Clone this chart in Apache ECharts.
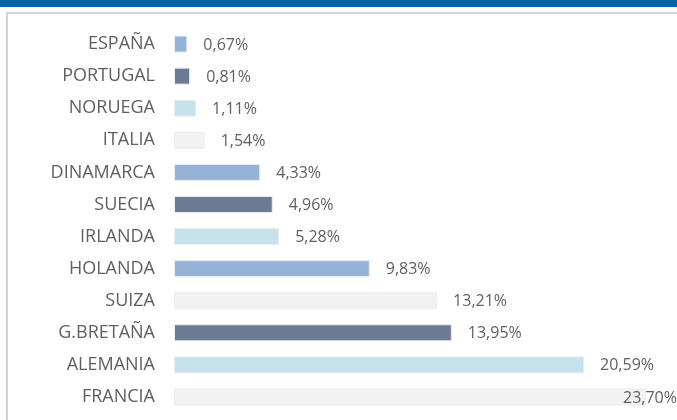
<!DOCTYPE html>
<html>
<head>
<meta charset="utf-8">
<style>
  html, body { margin: 0; padding: 0; background: #fff; }
  #chart { width: 677px; height: 420px; }
</style>
<script src="https://cdn.jsdelivr.net/npm/echarts@6/dist/echarts.min.js"></script>
</head>
<body>
<div id="chart"></div>
<script>
// categories from top to bottom
const countries = ['ESPAÑA', 'PORTUGAL', 'NORUEGA', 'ITALIA', 'DINAMARCA', 'SUECIA', 'IRLANDA', 'HOLANDA', 'SUIZA', 'G.BRETAÑA', 'ALEMANIA', 'FRANCIA']
const shares = [0.67, 0.81, 1.11, 1.54, 4.33, 4.96, 5.28, 9.83, 13.21, 13.95, 20.59, 23.70]
const barColors = ['#95b3d7', '#6b7b93', '#c6e3ed', '#f2f2f2', '#95b3d7', '#6b7b93', '#c6e3ed', '#95b3d7', '#f2f2f2', '#6b7b93', '#c6e3ed', '#f2f2f2']

const chart = echarts.init(document.getElementById('chart'))

const option = {
  animation: false,
  graphic: [
    { type: 'rect', shape: { x: 0, y: 0, width: 677, height: 7 }, style: { fill: '#0061a9' } },
    { type: 'rect', shape: { x: 7, y: 13, width: 690, height: 430 }, style: { fill: 'none', stroke: '#d4d4d4', lineWidth: 2 } }
  ],
  grid: { left: 174, top: 28, width: 472, height: 385, containLabel: false },
  xAxis: {
    type: 'value',
    min: 0,
    max: 23.7,
    show: false
  },
  yAxis: {
    type: 'category',
    inverse: true,
    data: countries,
    axisLine: { show: false },
    axisTick: { show: false },
    axisLabel: {
      margin: 19,
      color: '#5f5f5f',
      fontFamily: 'Open Sans',
      fontSize: 18
    }
  },
  series: [{
    type: 'bar',
    barWidth: 17,
    data: shares.map((v, i) => {
      const item = {
        value: v,
        itemStyle: { color: barColors[i], borderColor: '#ececec', borderWidth: 1 }
      }
      // last label is pushed back inside the plot, as in the original
      if (i === shares.length - 1) item.label = { offset: [-39, 1] }
      return item
    }),
    label: {
      show: true,
      position: 'right',
      distance: 16,
      offset: [0, 1],
      color: '#5f5f5f',
      fontFamily: 'Open Sans',
      fontSize: 16,
      formatter: p => p.value.toFixed(2).replace('.', ',') + '%'
    }
  }]
}

chart.setOption(option)
</script>
</body>
</html>
